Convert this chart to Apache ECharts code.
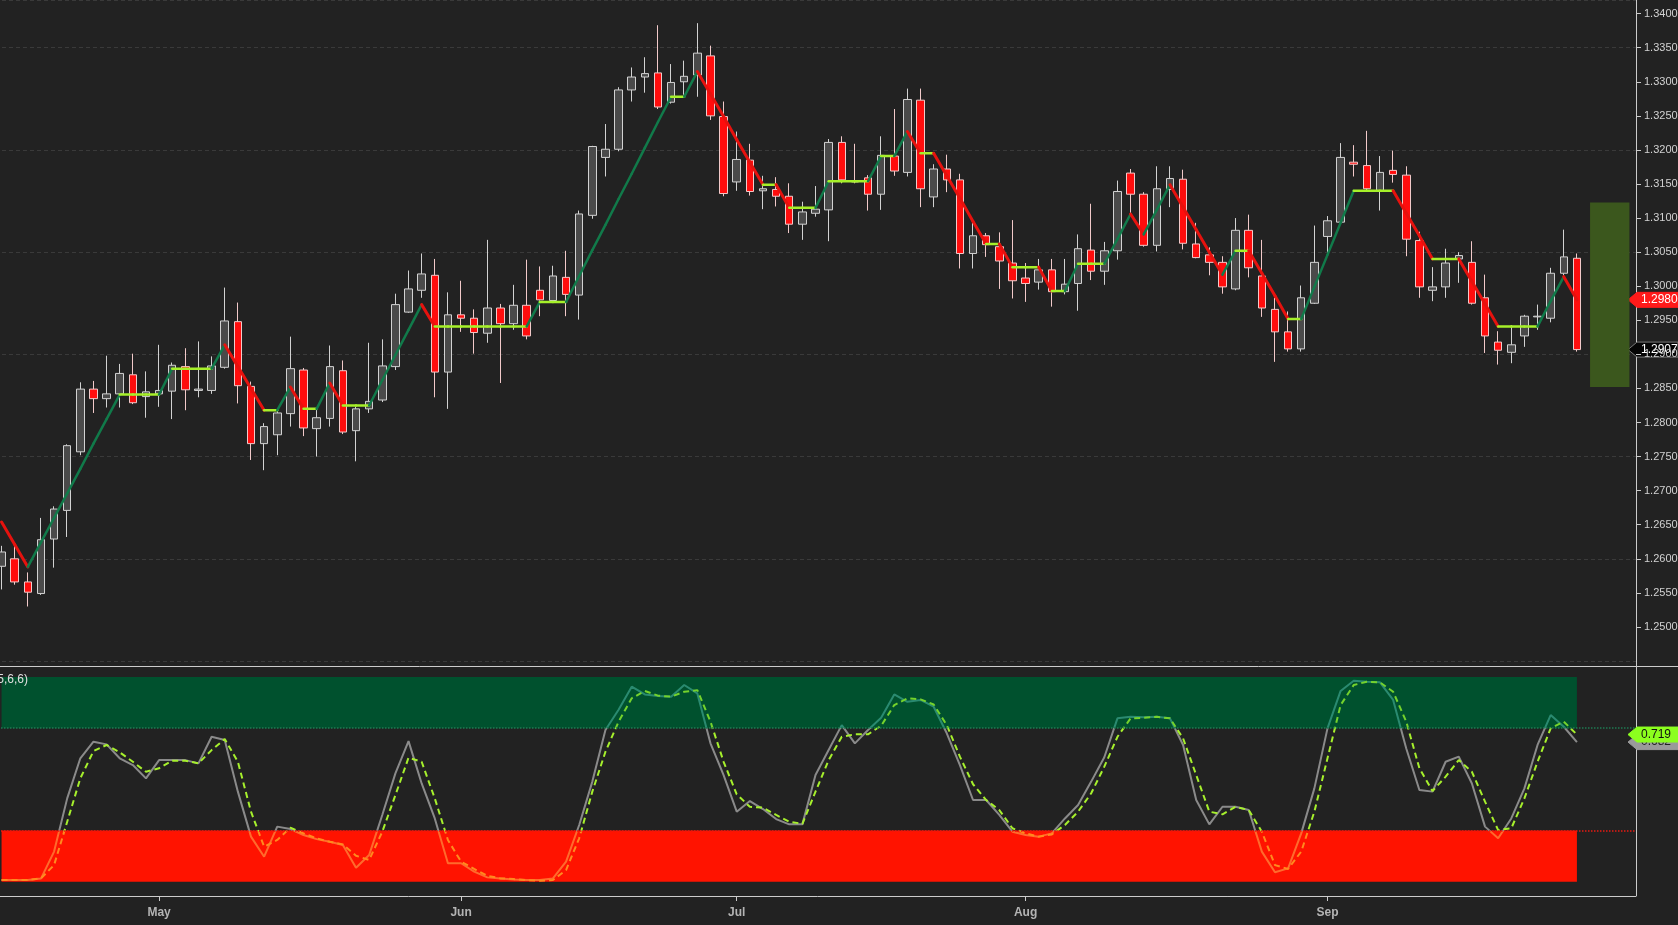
<!DOCTYPE html>
<html>
<head>
<meta charset="utf-8">
<title>USD/CAD daily</title>
<script src="https://cdn.jsdelivr.net/npm/echarts/dist/echarts.min.js"></script>
<style>
  html, body { margin: 0; padding: 0; background: #222222; }
  #chart { width: 1678px; height: 925px; }
</style>
</head>
<body>
<div id="chart"></div>
<script>
// trading days (weekdays), plus four empty slots on the right
var dates = [
  '2018-04-13','2018-04-16','2018-04-17','2018-04-18','2018-04-19','2018-04-20','2018-04-23','2018-04-24','2018-04-25','2018-04-26','2018-04-27','2018-04-30',
  '2018-05-01','2018-05-02','2018-05-03','2018-05-04','2018-05-07','2018-05-08','2018-05-09','2018-05-10','2018-05-11','2018-05-14','2018-05-15','2018-05-16','2018-05-17','2018-05-18','2018-05-21','2018-05-22','2018-05-23','2018-05-24','2018-05-25','2018-05-28','2018-05-29','2018-05-30','2018-05-31',
  '2018-06-01','2018-06-04','2018-06-05','2018-06-06','2018-06-07','2018-06-08','2018-06-11','2018-06-12','2018-06-13','2018-06-14','2018-06-15','2018-06-18','2018-06-19','2018-06-20','2018-06-21','2018-06-22','2018-06-25','2018-06-26','2018-06-27','2018-06-28','2018-06-29',
  '2018-07-02','2018-07-03','2018-07-04','2018-07-05','2018-07-06','2018-07-09','2018-07-10','2018-07-11','2018-07-12','2018-07-13','2018-07-16','2018-07-17','2018-07-18','2018-07-19','2018-07-20','2018-07-23','2018-07-24','2018-07-25','2018-07-26','2018-07-27','2018-07-30','2018-07-31',
  '2018-08-01','2018-08-02','2018-08-03','2018-08-06','2018-08-07','2018-08-08','2018-08-09','2018-08-10','2018-08-13','2018-08-14','2018-08-15','2018-08-16','2018-08-17','2018-08-20','2018-08-21','2018-08-22','2018-08-23','2018-08-24','2018-08-27','2018-08-28','2018-08-29','2018-08-30','2018-08-31',
  '2018-09-03','2018-09-04','2018-09-05','2018-09-06','2018-09-07','2018-09-10','2018-09-11','2018-09-12','2018-09-13','2018-09-14','2018-09-17','2018-09-18','2018-09-19','2018-09-20','2018-09-21','2018-09-24','2018-09-25','2018-09-26','2018-09-27','2018-09-28',
  '2018-10-01','2018-10-02','2018-10-03','2018-10-04'
];
var monthNames = ['Jan','Feb','Mar','Apr','May','Jun','Jul','Aug','Sep','Oct','Nov','Dec'];

var opens = [
  1.2589,1.2600,1.2566,1.2549,1.2629,1.2671,1.2757,1.2849,1.2835,1.2842,
  1.2870,1.2838,1.2842,1.2846,1.2882,1.2847,1.2847,1.2881,1.2948,1.2853,
  1.2769,1.2782,1.2813,1.2877,1.2791,1.2806,1.2876,1.2788,1.2820,1.2833,
  1.2882,1.2962,1.2994,1.3016,1.2874,1.2958,1.2953,1.2931,1.2968,1.2945,
  1.2972,1.2994,1.2979,1.3013,1.2987,1.3104,1.3189,1.3201,1.3288,1.3307,
  1.3313,1.3270,1.3300,1.3310,1.3338,1.3249,1.3153,1.3185,1.3140,1.3142,
  1.3132,1.3091,1.3107,1.3112,1.3211,1.3155,1.3159,1.3135,1.3191,1.3167,
  1.3273,1.3131,1.3172,1.3156,1.3048,1.3074,1.3058,1.3034,1.3012,1.3006,
  1.3024,1.2992,1.3004,1.3053,1.3022,1.3052,1.3166,1.3135,1.3060,1.3142,
  1.3157,1.3062,1.3046,1.3035,1.2996,1.3082,1.3015,1.2966,1.2933,1.2908,
  1.2975,1.3073,1.3094,1.3182,1.3177,1.3140,1.3170,1.3163,1.3067,1.2994,
  1.2999,1.3040,1.3035,1.2983,1.2918,1.2903,1.2927,1.2955,1.2953,1.3019,
  1.3041
];
var closes = [
  1.2610,1.2566,1.2551,1.2628,1.2673,1.2766,1.2849,1.2835,1.2842,1.2872,
  1.2829,1.2845,1.2847,1.2884,1.2848,1.2849,1.2883,1.2949,1.2854,1.2769,
  1.2794,1.2814,1.2879,1.2792,1.2807,1.2882,1.2786,1.2820,1.2831,1.2883,
  1.2973,1.2996,1.3018,1.2874,1.2958,1.2953,1.2932,1.2968,1.2945,1.2972,
  1.2927,1.2980,1.3015,1.2988,1.3106,1.3205,1.3201,1.3288,1.3307,1.3312,
  1.3263,1.3299,1.3308,1.3342,1.3250,1.3136,1.3186,1.3139,1.3143,1.3132,
  1.3091,1.3109,1.3113,1.3211,1.3156,1.3153,1.3135,1.3192,1.3169,1.3274,
  1.3143,1.3172,1.3156,1.3048,1.3074,1.3061,1.3037,1.3008,1.3004,1.3024,
  1.2992,1.3003,1.3055,1.3022,1.3052,1.3139,1.3135,1.3060,1.3143,1.3158,
  1.3063,1.3042,1.3035,1.2999,1.3082,1.3027,1.2968,1.2933,1.2908,1.2983,
  1.3035,1.3096,1.3189,1.3179,1.3143,1.3167,1.3164,1.3069,1.2999,1.2999,
  1.3034,1.3045,1.2975,1.2927,1.2906,1.2914,1.2956,1.2956,1.3019,1.3043,
  1.2907
];
var lows = [
  1.2555,1.2562,1.2530,1.2547,1.2587,1.2632,1.2752,1.2814,1.2822,1.2822,
  1.2827,1.2807,1.2823,1.2805,1.2818,1.2837,1.2842,1.2879,1.2828,1.2745,
  1.2730,1.2752,1.2794,1.2780,1.2750,1.2794,1.2783,1.2743,1.2814,1.2830,
  1.2877,1.2961,1.2983,1.2837,1.2820,1.2933,1.2901,1.2917,1.2858,1.2936,
  1.2922,1.2956,1.2978,1.2956,1.2951,1.3099,1.3161,1.3198,1.3271,1.3284,
  1.3260,1.3268,1.3281,1.3278,1.3244,1.3132,1.3140,1.3133,1.3113,1.3117,
  1.3078,1.3068,1.3102,1.3066,1.3151,1.3151,1.3111,1.3112,1.3162,1.3161,
  1.3116,1.3116,1.3138,1.3026,1.3026,1.3043,1.2996,1.2982,1.2977,1.2995,
  1.2970,1.2988,1.2964,1.3009,1.3002,1.3039,1.3107,1.3058,1.3051,1.3116,
  1.3054,1.3041,1.3016,1.2989,1.2994,1.3013,1.2955,1.2889,1.2904,1.2904,
  1.2974,1.3046,1.3091,1.3161,1.3141,1.3111,1.3152,1.3044,1.2983,1.2978,
  1.2983,1.3005,1.2973,1.2902,1.2885,1.2887,1.2911,1.2936,1.2947,1.3015,
  1.2904
];
var highs = [
  1.2619,1.2621,1.2580,1.2660,1.2677,1.2768,1.2859,1.2861,1.2898,1.2886,
  1.2901,1.2875,1.2914,1.2888,1.2909,1.2919,1.2897,1.2998,1.2976,1.2860,
  1.2799,1.2821,1.2926,1.2880,1.2821,1.2913,1.2891,1.2823,1.2917,1.2922,
  1.2989,1.3023,1.3048,1.3040,1.2991,1.3008,1.2966,1.3068,1.2974,1.3002,
  1.3039,1.3029,1.3030,1.3052,1.3111,1.3206,1.3238,1.3292,1.3321,1.3336,
  1.3383,1.3326,1.3331,1.3386,1.3353,1.3271,1.3227,1.3209,1.3162,1.3160,
  1.3151,1.3124,1.3147,1.3216,1.3220,1.3209,1.3163,1.3220,1.3260,1.3290,
  1.3290,1.3179,1.3193,1.3165,1.3093,1.3078,1.3079,1.3097,1.3034,1.3040,
  1.3040,1.3040,1.3076,1.3121,1.3065,1.3155,1.3172,1.3138,1.3176,1.3176,
  1.3171,1.3093,1.3057,1.3044,1.3100,1.3105,1.3068,1.2983,1.2963,1.3001,
  1.3089,1.3103,1.3210,1.3207,1.3228,1.3191,1.3199,1.3176,1.3080,1.3028,
  1.3055,1.3050,1.3066,1.3017,1.2934,1.2943,1.2958,1.2973,1.3027,1.3083,
  1.3048
];
// swing / trend line drawn over the candles
var trendLine = [
  1.2654,1.2621,1.2588,1.2624,1.2660,1.2696,1.2732,1.2769,1.2805,1.2841,
  1.2841,1.2841,1.2841,1.2879,1.2879,1.2879,1.2879,1.2914,1.2882,1.2850,
  1.2818,1.2818,1.2852,1.2820,1.2820,1.2858,1.2825,1.2825,1.2825,1.2862,
  1.2899,1.2936,1.2973,1.2941,1.2941,1.2941,1.2941,1.2941,1.2941,1.2941,
  1.2941,1.2977,1.2977,1.2977,1.3015,1.3053,1.3090,1.3128,1.3165,1.3203,
  1.3241,1.3278,1.3278,1.3315,1.3282,1.3249,1.3215,1.3182,1.3149,1.3149,
  1.3115,1.3115,1.3115,1.3154,1.3154,1.3154,1.3154,1.3191,1.3191,1.3227,
  1.3195,1.3195,1.3162,1.3129,1.3095,1.3062,1.3062,1.3028,1.3028,1.3028,
  1.2993,1.2993,1.3033,1.3033,1.3033,1.3069,1.3106,1.3076,1.3112,1.3149,
  1.3116,1.3083,1.3050,1.3017,1.3052,1.3052,1.3019,1.2986,1.2952,1.2952,
  1.2999,1.3046,1.3093,1.3140,1.3140,1.3140,1.3140,1.3107,1.3074,1.3040,
  1.3040,1.3040,1.3007,1.2974,1.2941,1.2941,1.2941,1.2941,1.2978,1.3014,
  1.2980
];
// stochastic (5,6,6)
var stochK = [
  0.008,0.008,0.008,0.015,0.147,0.407,0.603,0.684,0.671,0.603,
  0.570,0.505,0.594,0.594,0.594,0.578,0.708,0.692,0.440,0.220,
  0.122,0.269,0.257,0.228,0.208,0.195,0.179,0.068,0.130,0.326,
  0.529,0.687,0.480,0.309,0.090,0.090,0.049,0.021,0.016,0.011,
  0.008,0.008,0.016,0.098,0.277,0.489,0.741,0.840,0.953,0.915,
  0.907,0.904,0.961,0.920,0.676,0.521,0.342,0.394,0.355,0.306,
  0.280,0.280,0.521,0.643,0.765,0.676,0.741,0.801,0.915,0.879,
  0.888,0.855,0.725,0.570,0.399,0.399,0.326,0.244,0.228,0.220,
  0.236,0.309,0.375,0.489,0.608,0.798,0.806,0.803,0.806,0.798,
  0.668,0.399,0.280,0.366,0.366,0.350,0.147,0.046,0.065,0.236,
  0.456,0.749,0.932,0.982,0.977,0.974,0.888,0.651,0.448,0.440,
  0.586,0.611,0.480,0.269,0.212,0.309,0.456,0.668,0.814,0.757,
  0.682
];
var stochD = [
  0.008,0.008,0.008,0.016,0.081,0.293,0.505,0.638,0.668,0.632,
  0.586,0.537,0.554,0.591,0.591,0.578,0.643,0.697,0.586,0.342,
  0.171,0.204,0.264,0.236,0.212,0.195,0.182,0.127,0.106,0.244,
  0.423,0.606,0.586,0.407,0.204,0.098,0.062,0.029,0.016,0.013,
  0.008,0.005,0.008,0.057,0.212,0.440,0.635,0.782,0.896,0.932,
  0.909,0.904,0.928,0.936,0.782,0.586,0.427,0.366,0.362,0.326,
  0.293,0.283,0.440,0.594,0.708,0.720,0.720,0.762,0.863,0.896,
  0.891,0.866,0.765,0.611,0.476,0.399,0.350,0.261,0.236,0.220,
  0.231,0.277,0.342,0.432,0.562,0.708,0.798,0.801,0.806,0.798,
  0.700,0.521,0.342,0.329,0.366,0.350,0.244,0.081,0.062,0.147,
  0.342,0.603,0.863,0.961,0.977,0.974,0.928,0.782,0.554,0.443,
  0.513,0.594,0.537,0.391,0.252,0.261,0.407,0.586,0.749,0.782,
  0.719
];
var stochLevels = [0.25, 0.75];
var projectionBox = [1.2852, 1.3123];

var chart = echarts.init(document.getElementById('chart'));
var last = opens.length - 1;

var candles = [];
for (var i = 0; i < opens.length; i++) {
    candles.push([opens[i], closes[i], lows[i], highs[i]]);
}
var trendData = [];
for (var i = 0; i < trendLine.length; i++) {
    trendData.push([i, trendLine[i], i < last ? trendLine[i + 1] : trendLine[i]]);
}

function isMonthStart(index) {
    return index > 0 && index <= last && dates[index].slice(5, 7) !== dates[index - 1].slice(5, 7);
}

var labelFont = '"Liberation Sans", Arial, sans-serif';

var options = {
    backgroundColor: '#222222',
    animation: false,
    grid: [
        { left: -5, right: 42, top: 0, height: 661, containLabel: false, outerBoundsMode: 'none' },
        { left: -5, right: 42, top: 667, height: 229, containLabel: false, outerBoundsMode: 'none' }
    ],
    xAxis: [
        {
            type: 'category', gridIndex: 0, data: dates, boundaryGap: true,
            axisLine: { show: false }, axisTick: { show: false }, axisLabel: { show: false }, splitLine: { show: false }
        },
        {
            type: 'category', gridIndex: 1, data: dates, boundaryGap: true,
            axisLine: { show: true, onZero: false, lineStyle: { color: '#cccccc', width: 1 } },
            axisTick: { show: true, alignWithLabel: true, length: 5, interval: isMonthStart, lineStyle: { color: '#cccccc' } },
            axisLabel: {
                show: true, interval: isMonthStart, margin: 11, color: '#b4b4b4',
                fontSize: 12, fontWeight: 'bold', fontFamily: labelFont,
                formatter: function (value) { return monthNames[parseInt(value.slice(5, 7), 10) - 1]; }
            },
            splitLine: { show: false }
        }
    ],
    yAxis: [
        {
            type: 'value', gridIndex: 0, position: 'right', scale: true,
            min: 1.245, max: 1.342, interval: 0.005,
            axisLine: { show: false },
            axisTick: { show: true, length: 5, lineStyle: { color: '#cccccc' } },
            axisLabel: {
                show: true, margin: 8, color: '#d2d2d2', fontSize: 11, fontFamily: labelFont,
                showMinLabel: false, showMaxLabel: false,
                formatter: function (v) { return v.toFixed(4); }
            },
            splitLine: { show: false }
        },
        {
            type: 'value', gridIndex: 0, position: 'right', scale: true,
            min: 1.245, max: 1.342, interval: 0.015,
            axisLine: { show: false }, axisTick: { show: false }, axisLabel: { show: false },
            splitLine: { show: true, lineStyle: { color: '#3a3a3a', type: [4, 3], width: 1 } }
        },
        {
            type: 'value', gridIndex: 1, position: 'right',
            min: -0.07, max: 1.049,
            axisLine: { show: false }, axisTick: { show: false }, axisLabel: { show: false },
            splitLine: { show: false }
        }
    ],
    visualMap: [
        {
            show: false, seriesIndex: 3,
            pieces: [
                { lt: stochLevels[0], color: '#ff6a2c' },
                { gte: stochLevels[0], lte: stochLevels[1], color: '#8a8a8a' },
                { gt: stochLevels[1], color: '#2a8a70' }
            ]
        },
        {
            show: false, seriesIndex: 4,
            pieces: [
                { lt: stochLevels[0], color: '#ff8a1e' },
                { gte: stochLevels[0], lte: stochLevels[1], color: '#a6f02c' },
                { gt: stochLevels[1], color: '#74d22c' }
            ]
        }
    ],
    series: [
        {
            name: 'Price', type: 'candlestick', xAxisIndex: 0, yAxisIndex: 0,
            data: candles, barWidth: 8, z: 3,
            itemStyle: {
                color: '#4a4a4a', color0: '#ff0d0d',
                borderColor: '#d2d2d2', borderColor0: '#f2caca', borderWidth: 1
            },
            markArea: {
                silent: true,
                itemStyle: { color: '#3b571d' },
                data: [[
                    { xAxis: dates[last + 1], yAxis: projectionBox[0] },
                    { xAxis: dates[dates.length - 1], yAxis: projectionBox[1] }
                ]]
            }
        },
        {
            name: 'Trend', type: 'custom', xAxisIndex: 0, yAxisIndex: 0, z: 5,
            data: trendData,
            encode: { x: 0, y: [1, 2] },
            renderItem: function (params, api) {
                var idx = api.value(0);
                if (idx >= last) { return null; }
                var v0 = api.value(1), v1 = api.value(2);
                var a = api.coord([idx, v0]);
                var b = api.coord([idx + 1, v1]);
                var color = v1 > v0 ? '#117a4a' : (v1 < v0 ? '#e6120e' : '#a6f02a');
                return {
                    type: 'line',
                    shape: { x1: a[0], y1: a[1], x2: b[0], y2: b[1] },
                    style: { stroke: color, lineWidth: v1 < v0 ? 3 : 2.5, lineCap: 'round' }
                };
            }
        },
        {
            name: 'Zones', type: 'line', xAxisIndex: 1, yAxisIndex: 2, data: [], z: 1,
            silent: true,
            markArea: {
                silent: true,
                data: [
                    [{ xAxis: dates[0], yAxis: stochLevels[1], itemStyle: { color: '#00512e' } },
                     { xAxis: dates[last], yAxis: 1 }],
                    [{ xAxis: dates[0], yAxis: 0, itemStyle: { color: '#ff1300' } },
                     { xAxis: dates[last], yAxis: stochLevels[0] }]
                ]
            },
            markLine: {
                silent: true, symbol: ['none', 'none'],
                label: { show: false },
                data: [
                    { yAxis: stochLevels[1], lineStyle: { color: '#1f7a52', type: 'dotted', width: 1.5 } },
                    { yAxis: stochLevels[0], lineStyle: { color: '#e81a12', type: 'dotted', width: 1.5 } }
                ]
            }
        },
        {
            name: '%K', type: 'line', xAxisIndex: 1, yAxisIndex: 2, data: stochK, z: 3,
            symbol: 'none', lineStyle: { width: 2 }
        },
        {
            name: '%D', type: 'line', xAxisIndex: 1, yAxisIndex: 2, data: stochD, z: 4,
            symbol: 'none', lineStyle: { width: 2, type: [6, 4] }
        }
    ]
};

chart.setOption(options);

function priceTag(y, text, bg, fg, stroke) {
    return {
        type: 'group',
        children: [
            {
                type: 'polygon',
                shape: { points: [[1628, y], [1637, y - 7.5], [1678, y - 7.5], [1678, y + 7.5], [1637, y + 7.5]] },
                style: { fill: bg, stroke: stroke || bg, lineWidth: 1 }
            },
            {
                type: 'text', x: 1641, y: y,
                style: {
                    text: text, fill: fg, font: '12px ' + labelFont,
                    align: 'left', verticalAlign: 'middle',
                    textAlign: 'left', textVerticalAlign: 'middle'
                }
            }
        ]
    };
}

var yTrend = chart.convertToPixel({ yAxisIndex: 0 }, trendLine[last]);
var yClose = chart.convertToPixel({ yAxisIndex: 0 }, closes[last]);
var yK = chart.convertToPixel({ yAxisIndex: 2 }, stochK[last]);
var yD = chart.convertToPixel({ yAxisIndex: 2 }, stochD[last]);

chart.setOption({
    graphic: [
        { type: 'line', shape: { x1: 0, y1: 666.5, x2: 1678, y2: 666.5 }, style: { stroke: '#cccccc', lineWidth: 1 } },
        { type: 'line', shape: { x1: 1636.5, y1: 0, x2: 1636.5, y2: 896 }, style: { stroke: '#cccccc', lineWidth: 1 } },
        {
            type: 'text', x: 28, y: 680, z: 100,
            style: {
                text: 'Stochastic(5,6,6)', fill: '#e0e0e0', font: '12px ' + labelFont,
                align: 'right', verticalAlign: 'middle', textAlign: 'right', textVerticalAlign: 'middle'
            }
        },
        priceTag(yClose, closes[last].toFixed(4), '#050505', '#ffffff', '#777777'),
        priceTag(yTrend, trendLine[last].toFixed(4), '#ff1a1a', '#ffffff'),
        priceTag(yK, stochK[last].toFixed(3), '#9a9a9a', '#222222'),
        priceTag(yD, stochD[last].toFixed(3), '#8cff1e', '#111111')
    ]
});
</script>
</body>
</html>
